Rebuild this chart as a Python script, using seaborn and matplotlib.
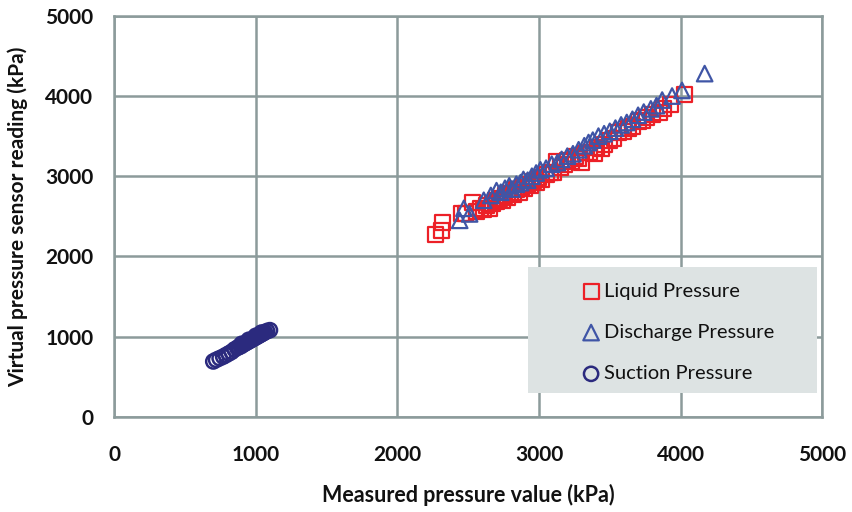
import matplotlib
matplotlib.use("Agg")
import matplotlib.pyplot as plt
import seaborn as sns
from matplotlib.patches import Rectangle

# Measured vs. virtual sensor readings (kPa)
liquid_measured = [2270, 2310, 2320, 2450, 2480, 2530, 2560, 2590, 2610, 2630, 2650,
                   2670, 2690, 2700, 2720, 2740, 2760, 2780, 2800, 2820, 2840, 2860,
                   2880, 2900, 2920, 2940, 2960, 2980, 3000, 3020, 3050, 3080, 3100,
                   3120, 3150, 3180, 3200, 3230, 3260, 3280, 3300, 3330, 3360, 3390,
                   3410, 3440, 3460, 3500, 3530, 3560, 3600, 3630, 3660, 3700, 3730,
                   3760, 3800, 3850, 3880, 3930, 4030]
liquid_virtual = [2270, 2320, 2420, 2530, 2540, 2670, 2560, 2600, 2580, 2640, 2600,
                  2660, 2700, 2680, 2720, 2700, 2760, 2740, 2790, 2770, 2830, 2800,
                  2860, 2850, 2900, 2880, 2940, 2920, 2980, 2960, 3020, 3050, 3040,
                  3180, 3110, 3150, 3200, 3180, 3250, 3220, 3170, 3290, 3300, 3280,
                  3360, 3340, 3400, 3450, 3470, 3540, 3560, 3600, 3620, 3680, 3700,
                  3730, 3770, 3800, 3850, 3900, 4020]

discharge_measured = [2440, 2470, 2510, 2610, 2660, 2700, 2730, 2760, 2790, 2810, 2840,
                      2870, 2890, 2920, 2950, 2980, 3010, 3050, 3090, 3130, 3160, 3200,
                      3240, 3280, 3320, 3350, 3380, 3420, 3460, 3500, 3540, 3580, 3620,
                      3660, 3700, 3740, 3790, 3830, 3870, 3940, 4010, 4170]
discharge_virtual = [2450, 2600, 2530, 2700, 2760, 2820, 2800, 2850, 2880, 2840, 2900,
                     2920, 2960, 2950, 3000, 3040, 3080, 3100, 3150, 3170, 3210, 3250,
                     3280, 3330, 3380, 3420, 3450, 3500, 3530, 3560, 3600, 3640, 3670,
                     3710, 3760, 3800, 3840, 3880, 3950, 4000, 4070, 4280]

suction_measured = [700, 720, 745, 770, 790, 810, 830, 850, 870, 880, 895, 905, 915,
                    925, 935, 945, 955, 965, 975, 985, 995, 1005, 1015, 1025, 1035,
                    1045, 1055, 1065, 1080, 1100, 900, 950, 1000, 1040]
suction_virtual = [690, 710, 730, 750, 770, 790, 810, 840, 860, 870, 880, 895, 905,
                   915, 925, 935, 945, 955, 965, 975, 985, 995, 1005, 1015, 1025,
                   1035, 1045, 1055, 1070, 1080, 910, 960, 1010, 1050]

series_labels = ["Liquid Pressure", "Discharge Pressure", "Suction Pressure"]
axis_ticks = [0, 1000, 2000, 3000, 4000, 5000]

sns.set_theme(style="white")
plt.rcParams["font.family"] = ["Lato", "DejaVu Sans"]

grid_color = "#8c9b9b"
fig = plt.figure(figsize=(8.52, 5.12), dpi=100)
ax = fig.add_axes([0.134, 0.186, 0.831, 0.783])

sns.scatterplot(x=liquid_measured, y=liquid_virtual, marker="s", s=115,
                color="#ec2027", facecolor="none", edgecolor="#ec2027",
                linewidth=1.6, label=series_labels[0], ax=ax, zorder=3)
sns.scatterplot(x=discharge_measured, y=discharge_virtual, marker="^", s=125,
                color="#3f55a6", facecolor="none", edgecolor="#3f55a6",
                linewidth=1.6, label=series_labels[1], ax=ax, zorder=4)
sns.scatterplot(x=suction_measured, y=suction_virtual, marker="o", s=105,
                color="#2b2a7e", facecolor="none", edgecolor="#2b2a7e",
                linewidth=1.8, label=series_labels[2], ax=ax, zorder=5)

ax.set_xlim(0, 5000)
ax.set_ylim(0, 5000)
ax.set_xticks(axis_ticks)
ax.set_yticks(axis_ticks)
ax.set_xticklabels([str(t) for t in axis_ticks])
ax.set_yticklabels([str(t) for t in axis_ticks])
ax.grid(True, color=grid_color, linewidth=1.8)
ax.set_axisbelow(True)
for side in ["left", "bottom", "top", "right"]:
    ax.spines[side].set_color(grid_color)
    ax.spines[side].set_linewidth(1.8)
ax.tick_params(axis="x", length=0, pad=20, labelsize=15, labelcolor="#111111")
ax.tick_params(axis="y", length=0, pad=15, labelsize=15, labelcolor="#111111")
for lab in ax.get_xticklabels() + ax.get_yticklabels():
    lab.set_fontweight("bold")

ax.set_xlabel("Measured pressure value (kPa)", fontsize=15.5, fontweight="bold",
              color="#111111", labelpad=14)
ax.set_ylabel("Virtual pressure sensor reading (kPa)", fontsize=15,
              fontweight="bold", color="#111111", labelpad=12)

# legend panel
ax.add_patch(Rectangle((0.585, 0.06), 0.408, 0.314, transform=ax.transAxes,
                       facecolor="#dde3e3", edgecolor="none", zorder=6))
leg = ax.legend(loc="upper left", bbox_to_anchor=(0.648, 0.355), frameon=False,
                fontsize=14.5, labelspacing=1.2, handletextpad=0.15,
                handlelength=1.0, borderaxespad=0)
leg.set_zorder(7)
for t in leg.get_texts():
    t.set_color("#111111")

fig.savefig("out.png", dpi=100)
